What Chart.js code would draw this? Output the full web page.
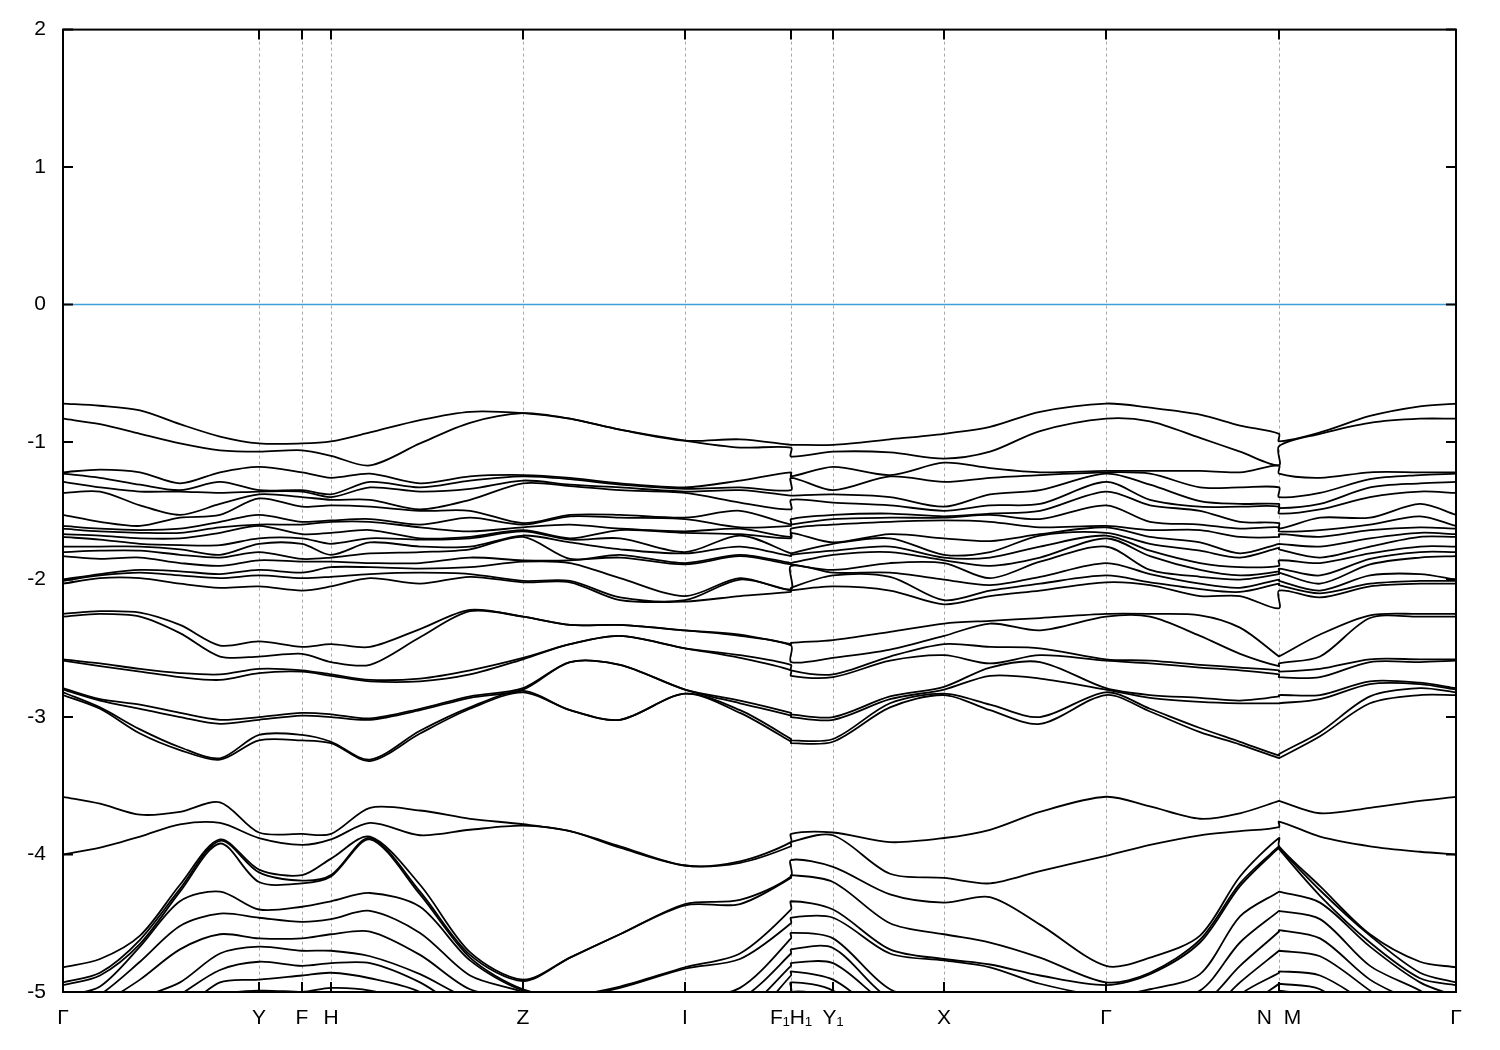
<!DOCTYPE html>
<html>
<head>
  <title>Band structure</title>
  <script src="https://cdn.jsdelivr.net/npm/chart.js"></script>
  <style>
    body { margin: 0; background: #fff; }
    #wrap { width: 1500px; height: 1050px; }
  </style>
</head>
<body>
  <div id="wrap"><canvas id="bands" width="1500" height="1050"></canvas></div>
  <script>
    // k-path distance of each sampled k-point (F1|H1 and N|M are jumps, so they appear twice)
    var kPoints = [0,37,77,117,157,196,239,268,307,357,407,460,507,557,622,677,728,728,770,827,881,927,977,1043,1087,1137,1177,1216,1216,1257,1307,1357,1393];
    // high-symmetry points
    var tickPos = [0,196,239,268,460,622,728,770,881,1043,1216,1393];
    var tickLabels = ['Γ','Y','F','H','Z','I','F₁H₁','Y₁','X','Γ','N  M','Γ'];
    var yTicks = [-5,-4,-3,-2,-1,0,1,2];

    // energies (eV) at each k-point, one row per k-point, sorted inside each group
    var topBands = [
      [-0.72,-0.83],[-0.736,-0.87],[-0.77,-0.94],[-0.87,-1.01],[-0.96,-1.06],[-1.01,-1.07],[-1.01,-1.06],[-0.995,-1.10],
      [-0.93,-1.17],[-0.84,-1.01],[-0.78,-0.86],[-0.79,-0.79],[-0.83,-0.83],[-0.91,-0.91],[-0.99,-0.99],[-0.98,-1.04],
      [-1.02,-1.04],[-1.02,-1.105],[-1.02,-1.07],[-0.98,-1.075],[-0.94,-1.12],[-0.89,-1.07],[-0.78,-0.92],[-0.72,-0.83],
      [-0.75,-0.85],[-0.80,-0.97],[-0.88,-1.07],[-0.94,-1.17],[-0.995,-1.03],[-0.93,-0.94],[-0.81,-0.86],[-0.74,-0.83],
      [-0.72,-0.83]
    ];

    var midBands = [
      [-1.22,-1.23,-1.29,-1.37,-1.53,-1.61,-1.63,-1.67,-1.69,-1.76,-1.80,-1.83,-2.00,-2.01,-2.03],
      [-1.20,-1.26,-1.33,-1.36,-1.58,-1.63,-1.65,-1.68,-1.71,-1.76,-1.79,-1.85,-1.96,-1.97,-1.99],
      [-1.22,-1.31,-1.36,-1.46,-1.61,-1.64,-1.66,-1.70,-1.74,-1.76,-1.79,-1.84,-1.93,-1.95,-1.99],
      [-1.30,-1.35,-1.36,-1.53,-1.55,-1.63,-1.66,-1.70,-1.75,-1.78,-1.82,-1.88,-1.94,-1.97,-2.03],
      [-1.22,-1.29,-1.37,-1.45,-1.53,-1.58,-1.62,-1.66,-1.75,-1.82,-1.84,-1.90,-1.96,-1.99,-2.06],
      [-1.18,-1.35,-1.36,-1.38,-1.41,-1.53,-1.60,-1.61,-1.70,-1.74,-1.80,-1.86,-1.93,-1.97,-2.05],
      [-1.22,-1.35,-1.36,-1.40,-1.47,-1.58,-1.60,-1.67,-1.70,-1.74,-1.85,-1.87,-1.95,-1.99,-2.08],
      [-1.26,-1.38,-1.40,-1.42,-1.46,-1.57,-1.58,-1.66,-1.74,-1.82,-1.84,-1.87,-1.91,-1.98,-2.05],
      [-1.23,-1.29,-1.33,-1.42,-1.47,-1.56,-1.58,-1.64,-1.70,-1.73,-1.81,-1.88,-1.91,-1.96,-1.99],
      [-1.30,-1.33,-1.36,-1.49,-1.50,-1.60,-1.62,-1.70,-1.71,-1.76,-1.80,-1.88,-1.92,-1.95,-2.03],
      [-1.25,-1.28,-1.34,-1.42,-1.50,-1.55,-1.65,-1.69,-1.70,-1.76,-1.78,-1.84,-1.91,-1.96,-1.98],
      [-1.24,-1.25,-1.28,-1.30,-1.59,-1.60,-1.62,-1.64,-1.65,-1.68,-1.69,-1.86,-1.87,-2.01,-2.02],
      [-1.26,-1.27,-1.31,-1.32,-1.53,-1.54,-1.60,-1.70,-1.71,-1.73,-1.85,-1.86,-1.88,-2.01,-2.02],
      [-1.30,-1.31,-1.33,-1.35,-1.53,-1.55,-1.63,-1.64,-1.70,-1.78,-1.82,-1.84,-1.99,-2.13,-2.15],
      [-1.33,-1.34,-1.36,-1.37,-1.55,-1.56,-1.65,-1.66,-1.80,-1.81,-1.88,-1.89,-2.12,-2.15,-2.16],
      [-1.28,-1.33,-1.35,-1.44,-1.50,-1.62,-1.63,-1.67,-1.68,-1.76,-1.82,-1.83,-1.99,-2.00,-2.12],
      [-1.22,-1.35,-1.39,-1.49,-1.60,-1.61,-1.69,-1.70,-1.81,-1.83,-1.88,-1.89,-2.07,-2.08,-2.09],
      [-1.25,-1.26,-1.39,-1.42,-1.56,-1.60,-1.63,-1.66,-1.81,-1.82,-1.88,-1.89,-1.90,-2.06,-2.08],
      [-1.18,-1.35,-1.38,-1.44,-1.53,-1.56,-1.60,-1.73,-1.74,-1.79,-1.82,-1.93,-1.95,-1.97,-2.05],
      [-1.24,-1.25,-1.40,-1.46,-1.52,-1.55,-1.58,-1.67,-1.70,-1.76,-1.80,-1.88,-1.95,-1.98,-2.08],
      [-1.15,-1.29,-1.47,-1.50,-1.54,-1.55,-1.57,-1.70,-1.82,-1.84,-1.86,-1.88,-2.00,-2.15,-2.18],
      [-1.19,-1.26,-1.38,-1.46,-1.52,-1.53,-1.58,-1.72,-1.80,-1.84,-1.90,-1.99,-2.04,-2.08,-2.12],
      [-1.22,-1.24,-1.35,-1.45,-1.50,-1.56,-1.62,-1.67,-1.68,-1.76,-1.84,-1.87,-1.98,-2.03,-2.08],
      [-1.21,-1.22,-1.23,-1.29,-1.36,-1.46,-1.61,-1.62,-1.66,-1.68,-1.70,-1.76,-1.88,-1.97,-2.02],
      [-1.21,-1.23,-1.31,-1.42,-1.46,-1.58,-1.64,-1.69,-1.74,-1.79,-1.83,-1.93,-1.96,-2.02,-2.04],
      [-1.21,-1.33,-1.43,-1.47,-1.50,-1.60,-1.64,-1.73,-1.79,-1.88,-1.93,-1.98,-2.03,-2.07,-2.12],
      [-1.22,-1.33,-1.45,-1.47,-1.58,-1.63,-1.69,-1.81,-1.84,-1.91,-1.97,-2.00,-2.06,-2.09,-2.12],
      [-1.17,-1.33,-1.45,-1.47,-1.59,-1.62,-1.69,-1.74,-1.77,-1.90,-1.94,-1.96,-2.00,-2.03,-2.21],
      [-1.23,-1.40,-1.48,-1.52,-1.63,-1.65,-1.67,-1.74,-1.78,-1.86,-1.92,-1.95,-2.01,-2.04,-2.08],
      [-1.26,-1.37,-1.45,-1.49,-1.55,-1.64,-1.69,-1.76,-1.84,-1.88,-1.97,-2.03,-2.08,-2.10,-2.13],
      [-1.22,-1.27,-1.33,-1.40,-1.55,-1.60,-1.64,-1.70,-1.76,-1.81,-1.85,-1.89,-1.97,-2.03,-2.05],
      [-1.22,-1.24,-1.30,-1.36,-1.45,-1.54,-1.62,-1.66,-1.69,-1.76,-1.80,-1.84,-1.96,-2.01,-2.03],
      [-1.22,-1.23,-1.29,-1.37,-1.53,-1.61,-1.63,-1.67,-1.69,-1.76,-1.80,-1.83,-2.00,-2.01,-2.03]
    ];

    var lowBands = [
      [-2.25,-2.27,-2.58,-2.59,-2.79,-2.80,-2.82,-2.84],
      [-2.23,-2.25,-2.61,-2.63,-2.87,-2.88,-2.93,-2.94],
      [-2.24,-2.27,-2.65,-2.67,-2.91,-2.94,-3.09,-3.12],
      [-2.33,-2.39,-2.68,-2.71,-2.97,-3.00,-3.22,-3.24],
      [-2.48,-2.56,-2.69,-2.73,-3.02,-3.05,-3.30,-3.31],
      [-2.45,-2.56,-2.65,-2.68,-3.00,-3.02,-3.13,-3.17],
      [-2.49,-2.54,-2.66,-2.67,-2.97,-2.99,-3.13,-3.17],
      [-2.47,-2.60,-2.69,-2.70,-2.98,-3.00,-3.18,-3.19],
      [-2.49,-2.62,-2.73,-2.74,-3.01,-3.02,-3.31,-3.32],
      [-2.36,-2.42,-2.72,-2.74,-2.94,-2.95,-3.10,-3.12],
      [-2.22,-2.23,-2.66,-2.69,-2.85,-2.86,-2.93,-2.94],
      [-2.27,-2.27,-2.57,-2.58,-2.79,-2.80,-2.81,-2.82],
      [-2.33,-2.33,-2.47,-2.47,-2.60,-2.60,-2.95,-2.95],
      [-2.33,-2.33,-2.41,-2.41,-2.62,-2.62,-3.02,-3.02],
      [-2.37,-2.37,-2.50,-2.50,-2.80,-2.80,-2.83,-2.83],
      [-2.40,-2.41,-2.55,-2.57,-2.88,-2.90,-2.95,-2.97],
      [-2.47,-2.48,-2.62,-2.66,-2.97,-2.99,-3.16,-3.18],
      [-2.46,-2.60,-2.66,-2.70,-2.98,-3.00,-3.17,-3.19],
      [-2.44,-2.57,-2.69,-2.71,-3.00,-3.02,-3.16,-3.18],
      [-2.38,-2.51,-2.56,-2.59,-2.85,-2.87,-2.90,-2.93],
      [-2.32,-2.41,-2.47,-2.55,-2.78,-2.80,-2.83,-2.84],
      [-2.30,-2.32,-2.49,-2.61,-2.64,-2.70,-2.91,-2.95],
      [-2.28,-2.37,-2.50,-2.55,-2.60,-2.72,-3.00,-3.05],
      [-2.25,-2.27,-2.58,-2.59,-2.79,-2.80,-2.82,-2.84],
      [-2.25,-2.27,-2.59,-2.61,-2.84,-2.86,-2.94,-2.96],
      [-2.26,-2.41,-2.62,-2.64,-2.86,-2.89,-3.08,-3.11],
      [-2.35,-2.54,-2.64,-2.66,-2.88,-2.90,-3.18,-3.20],
      [-2.56,-2.63,-2.66,-2.69,-2.85,-2.90,-3.28,-3.30],
      [-2.56,-2.61,-2.67,-2.71,-2.84,-2.90,-3.27,-3.30],
      [-2.40,-2.56,-2.65,-2.71,-2.84,-2.87,-3.11,-3.14],
      [-2.26,-2.28,-2.58,-2.60,-2.74,-2.76,-2.85,-2.90],
      [-2.25,-2.27,-2.58,-2.60,-2.75,-2.76,-2.79,-2.84],
      [-2.25,-2.27,-2.58,-2.59,-2.79,-2.80,-2.82,-2.84]
    ];

    var pairBands = [
      [-3.58,-4.00],[-3.63,-3.95],[-3.71,-3.87],[-3.69,-3.78],[-3.62,-3.77],[-3.84,-3.88],[-3.85,-3.93],[-3.85,-3.89],
      [-3.66,-3.77],[-3.68,-3.86],[-3.74,-3.82],[-3.78,-3.79],[-3.83,-3.83],[-3.94,-3.95],[-4.08,-4.08],[-4.05,-4.06],
      [-3.91,-3.94],[-3.85,-3.91],[-3.84,-3.86],[-3.91,-4.14],[-3.88,-4.17],[-3.82,-4.21],[-3.69,-4.12],[-3.58,-4.01],
      [-3.65,-3.93],[-3.74,-3.86],[-3.70,-3.83],[-3.61,-3.80],[-3.61,-3.76],[-3.70,-3.87],[-3.66,-3.94],[-3.61,-3.98],
      [-3.58,-4.00]
    ];

    var deepBands = [
      [-4.82,-4.93,-4.95,-5.03,-5.15,-5.30,-5.45,-5.60,-5.80,-6.00],
      [-4.76,-4.86,-4.88,-4.96,-5.02,-5.10,-5.25,-5.40,-5.55,-5.70],
      [-4.59,-4.62,-4.65,-4.67,-4.78,-4.91,-5.05,-5.20,-5.35,-5.50],
      [-4.22,-4.25,-4.27,-4.34,-4.52,-4.69,-4.93,-5.02,-5.15,-5.30],
      [-3.89,-3.90,-3.92,-4.27,-4.43,-4.58,-4.72,-4.84,-4.93,-5.03],
      [-4.11,-4.13,-4.20,-4.40,-4.46,-4.61,-4.67,-4.78,-4.91,-4.99],
      [-4.15,-4.19,-4.21,-4.38,-4.49,-4.61,-4.70,-4.81,-4.88,-5.00],
      [-4.03,-4.15,-4.16,-4.34,-4.47,-4.58,-4.70,-4.79,-4.86,-4.97],
      [-3.87,-3.88,-3.89,-4.28,-4.41,-4.56,-4.74,-4.79,-4.90,-4.99],
      [-4.22,-4.27,-4.29,-4.38,-4.57,-4.73,-4.87,-4.93,-5.00,-5.10],
      [-4.71,-4.73,-4.75,-4.77,-4.88,-4.98,-5.05,-5.15,-5.25,-5.40],
      [-4.91,-4.92,-4.98,-4.99,-5.00,-5.05,-5.10,-5.20,-5.30,-5.40],
      [-4.75,-4.75,-5.02,-5.03,-5.15,-5.20,-5.25,-5.30,-5.40,-5.50],
      [-4.58,-4.58,-4.96,-4.97,-5.12,-5.18,-5.25,-5.30,-5.40,-5.50],
      [-4.36,-4.37,-4.82,-4.83,-5.05,-5.10,-5.20,-5.30,-5.40,-5.50],
      [-4.33,-4.36,-4.72,-4.76,-4.97,-5.05,-5.15,-5.25,-5.35,-5.45],
      [-4.16,-4.17,-4.40,-4.50,-4.61,-4.72,-4.81,-4.88,-5.00,-5.10],
      [-4.04,-4.15,-4.34,-4.46,-4.57,-4.69,-4.79,-4.85,-4.93,-5.00],
      [-4.09,-4.20,-4.40,-4.46,-4.61,-4.68,-4.79,-4.91,-4.99,-5.05],
      [-4.29,-4.50,-4.69,-4.72,-4.98,-5.05,-5.10,-5.20,-5.30,-5.40],
      [-4.35,-4.58,-4.76,-4.77,-5.05,-5.10,-5.20,-5.30,-5.40,-5.50],
      [-4.31,-4.64,-4.80,-4.82,-5.05,-5.10,-5.20,-5.30,-5.40,-5.50],
      [-4.51,-4.75,-4.88,-4.94,-5.05,-5.12,-5.20,-5.30,-5.40,-5.50],
      [-4.81,-4.93,-4.95,-5.03,-5.15,-5.30,-5.45,-5.60,-5.80,-6.00],
      [-4.75,-4.86,-4.87,-4.98,-5.05,-5.15,-5.30,-5.45,-5.60,-5.75],
      [-4.59,-4.62,-4.64,-4.87,-4.99,-5.10,-5.20,-5.35,-5.50,-5.65],
      [-4.16,-4.21,-4.23,-4.45,-4.64,-4.81,-4.93,-5.02,-5.15,-5.30],
      [-3.88,-3.94,-3.95,-4.27,-4.41,-4.56,-4.70,-4.86,-4.94,-5.00],
      [-3.94,-3.95,-3.96,-4.27,-4.41,-4.55,-4.70,-4.85,-4.94,-4.99],
      [-4.23,-4.26,-4.30,-4.35,-4.47,-4.61,-4.74,-4.88,-4.98,-5.05],
      [-4.58,-4.59,-4.64,-4.67,-4.81,-4.91,-4.99,-5.10,-5.25,-5.40],
      [-4.78,-4.86,-4.90,-4.93,-4.99,-5.10,-5.25,-5.40,-5.55,-5.70],
      [-4.82,-4.93,-4.95,-5.03,-5.15,-5.30,-5.45,-5.60,-5.80,-6.00]
    ];

    var fermiLevel = 0;

    // turn the k-point rows into one line per band
    var datasets = [];
    function addGroup(rows) {
      var n = rows[0].length;
      for (var b = 0; b < n; b++) {
        datasets.push({
          data: kPoints.map(function(k, i) { return { x: k, y: rows[i][b] }; }),
          borderColor: '#000',
          borderWidth: 1.8,
          pointRadius: 0,
          tension: 0.3,
          fill: false
        });
      }
    }
    [topBands, midBands, lowBands, pairBands, deepBands].forEach(addGroup);

    datasets.push({
      data: [{ x: kPoints[0], y: fermiLevel }, { x: kPoints[kPoints.length - 1], y: fermiLevel }],
      borderColor: '#3fa0d8',
      borderWidth: 1.5,
      pointRadius: 0
    });

    // gnuplot-like frame, inward ticks and dashed k-point lines
    var framePlugin = {
      id: 'frame',
      beforeDatasetsDraw: function(chart) {
        var ctx = chart.ctx, a = chart.chartArea, x = chart.scales.x;
        ctx.save();
        ctx.strokeStyle = '#a8a8a8';
        ctx.lineWidth = 1;
        ctx.setLineDash([3, 3]);
        tickPos.slice(1, -1).forEach(function(v) {
          var px = Math.round(x.getPixelForValue(v)) + 0.5;
          ctx.beginPath();
          ctx.moveTo(px, a.top);
          ctx.lineTo(px, a.bottom);
          ctx.stroke();
        });
        ctx.restore();
      },
      afterDatasetsDraw: function(chart) {
        var ctx = chart.ctx, a = chart.chartArea, x = chart.scales.x, y = chart.scales.y;
        ctx.save();
        ctx.strokeStyle = '#000';
        ctx.lineWidth = 2;
        ctx.strokeRect(a.left, a.top, a.right - a.left, a.bottom - a.top);
        ctx.beginPath();
        yTicks.forEach(function(v) {
          var py = y.getPixelForValue(v);
          ctx.moveTo(a.left, py); ctx.lineTo(a.left + 10, py);
          ctx.moveTo(a.right, py); ctx.lineTo(a.right - 10, py);
        });
        tickPos.forEach(function(v) {
          var px = x.getPixelForValue(v);
          ctx.moveTo(px, a.bottom); ctx.lineTo(px, a.bottom - 10);
          ctx.moveTo(px, a.top); ctx.lineTo(px, a.top + 10);
        });
        ctx.stroke();
        ctx.restore();
      }
    };

    var tickFont = { family: '"Liberation Sans", Arial, sans-serif', size: 21 };

    new Chart(document.getElementById('bands'), {
      type: 'line',
      data: { datasets: datasets },
      options: {
        responsive: false,
        animation: false,
        events: [],
        layout: { padding: { top: 28, right: 44, left: 0, bottom: 0 } },
        plugins: { legend: { display: false }, tooltip: { enabled: false } },
        scales: {
          x: {
            type: 'linear',
            min: 0,
            max: 1393,
            grid: { display: false, drawTicks: false },
            border: { display: false },
            afterBuildTicks: function(scale) {
              scale.ticks = tickPos.map(function(v) { return { value: v }; });
            },
            afterFit: function(scale) { scale.height = 58; },
            ticks: {
              autoSkip: false,
              maxRotation: 0,
              padding: 14,
              color: '#000',
              font: tickFont,
              callback: function(v, i) { return tickLabels[i]; }
            }
          },
          y: {
            min: -5,
            max: 2,
            grid: { display: false, drawTicks: false },
            border: { display: false },
            afterFit: function(scale) { scale.width = 63; },
            ticks: { stepSize: 1, padding: 17, color: '#000', font: tickFont }
          }
        }
      },
      plugins: [framePlugin]
    });
  </script>
</body>
</html>
